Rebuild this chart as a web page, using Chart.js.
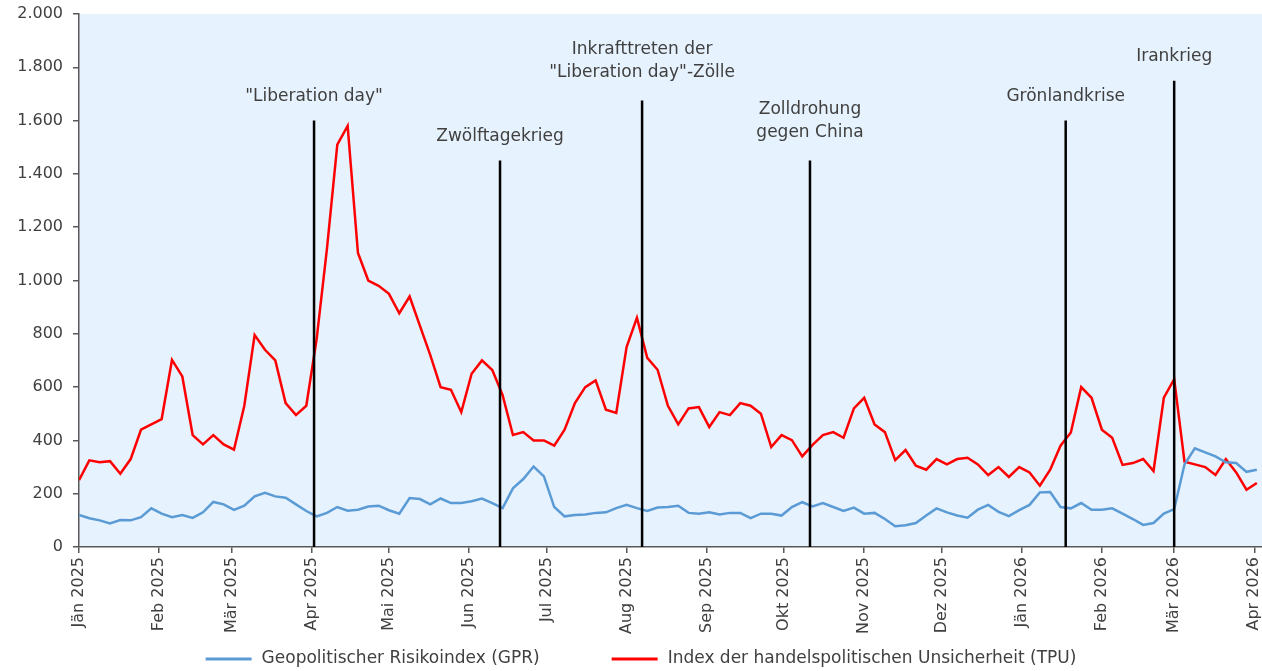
<!DOCTYPE html>
<html lang="de">
<head>
  <meta charset="UTF-8">
  <title>GPR und TPU</title>
  <script src="https://cdn.jsdelivr.net/npm/chart.js"></script>
  <style>
    body {
      margin: 0;
      background: #ffffff;
    }
    .chart-box {
      width: 1262px;
      height: 671px;
      position: relative;
    }
  </style>
</head>
<body>
  <div class="chart-box">
    <canvas id="riskChart"></canvas>
  </div>

  <script>
// x positions: days since 1 Jan 2025
const days = [
  0, 4, 8, 12, 16, 20, 24, 28, 32, 36,
  40, 44, 48, 52, 56, 60, 64, 68, 72, 76,
  80, 84, 88, 92, 96, 100, 104, 108, 112, 116,
  120, 124, 128, 132, 136, 140, 144, 148, 152, 156,
  160, 164, 168, 172, 176, 180, 184, 188, 192, 196,
  200, 204, 208, 212, 216, 220, 224, 228, 232, 236,
  240, 244, 248, 252, 256, 260, 264, 268, 272, 276,
  280, 284, 288, 292, 296, 300, 304, 308, 312, 316,
  320, 324, 328, 332, 336, 340, 344, 348, 352, 356,
  360, 364, 368, 372, 376, 380, 384, 388, 392, 396,
  400, 404, 408, 412, 416, 420, 424, 428, 432, 436,
  440, 444, 448, 452, 456
];

// Index der handelspolitischen Unsicherheit (TPU)
const tpuValues = [
  251, 325, 318, 322, 275, 330, 440, 460, 480, 702,
  640, 420, 385, 420, 385, 365, 530, 795, 740, 700,
  540, 495, 530, 780, 1120, 1510, 1580, 1103, 1000, 980,
  950, 877, 940, 830, 720, 600, 590, 506, 650, 700,
  664, 570, 420, 431, 400, 400, 380, 440, 540, 600,
  625, 515, 503, 750, 860, 710, 665, 530, 460, 520,
  525, 450, 506, 495, 540, 530, 500, 375, 420, 401,
  340, 383, 420, 431, 410, 520, 560, 460, 431, 326,
  364, 305, 290, 330, 310, 330, 335, 310, 270, 300,
  263, 300, 280, 230, 290, 380, 430, 600, 560, 440,
  410, 308, 315, 330, 285, 560, 630, 320, 310, 300,
  270, 330, 280, 215, 240
];

// Geopolitischer Risikoindex (GPR)
const gprValues = [
  120, 108, 100, 88, 101, 100, 112, 145, 125, 112,
  120, 109, 130, 169, 160, 139, 155, 190, 203, 190,
  185, 160, 135, 115, 128, 150, 136, 140, 152, 155,
  138, 125, 184, 180, 160, 182, 165, 165, 172, 182,
  165, 146, 220, 255, 302, 265, 150, 115, 120, 122,
  128, 130, 146, 158, 146, 135, 148, 150, 155, 128,
  125, 130, 122, 128, 128, 108, 125, 125, 118, 150,
  168, 152, 165, 150, 135, 148, 125, 128, 105, 78,
  82, 90, 118, 145, 130, 118, 110, 140, 158, 132,
  116, 138, 158, 205, 206, 150, 145, 165, 140, 140,
  145, 125, 105, 83, 90, 125, 142, 310, 370, 355,
  340, 318, 315, 282, 290
];

// month ticks
const monthDays = [0, 31, 59, 90, 120, 151, 181, 212, 243, 273, 304, 334, 365, 396, 424, 455];
const monthLabels = ['Jän 2025', 'Feb 2025', 'Mär 2025', 'Apr 2025', 'Mai 2025', 'Jun 2025',
  'Jul 2025', 'Aug 2025', 'Sep 2025', 'Okt 2025', 'Nov 2025', 'Dez 2025',
  'Jän 2026', 'Feb 2026', 'Mär 2026', 'Apr 2026'];

// events (vertical lines)
const eventDays = [91, 163, 218, 283, 382, 424];
const eventTops = [1600, 1450, 1675, 1450, 1600, 1750];
const eventLabels = [
  ['"Liberation day"'],
  ['Zwölftagekrieg'],
  ['Inkrafttreten der', '"Liberation day"-Zölle'],
  ['Zolldrohung', 'gegen China'],
  ['Grönlandkrise'],
  ['Irankrieg']
];

const seriesNames = ['Geopolitischer Risikoindex (GPR)', 'Index der handelspolitischen Unsicherheit (TPU)'];
const seriesColors = ['#5b9bd5', '#ff0000'];

const textColor = '#404040';
const fontFamily = '"DejaVu Sans", sans-serif';

function formatThousands(v) {
  if (v >= 1000) {
    return Math.floor(v / 1000) + '.' + String(v % 1000).padStart(3, '0');
  }
  return String(v);
}

// light blue plot area
const plotBackground = {
  id: 'plotBackground',
  beforeDraw(chart) {
    const { ctx, chartArea } = chart;
    ctx.save();
    ctx.fillStyle = '#e6f2fd';
    ctx.fillRect(chartArea.left, chartArea.top, chartArea.right - chartArea.left, chartArea.bottom - chartArea.top);
    ctx.restore();
  }
};

// event lines with labels
const eventMarkers = {
  id: 'eventMarkers',
  afterDatasetsDraw(chart) {
    const { ctx, scales: { x, y } } = chart;
    ctx.save();
    eventDays.forEach((d, i) => {
      const px = x.getPixelForValue(d);
      const top = y.getPixelForValue(eventTops[i]);
      ctx.strokeStyle = '#000000';
      ctx.lineWidth = 2.5;
      ctx.beginPath();
      ctx.moveTo(px, y.bottom);
      ctx.lineTo(px, top);
      ctx.stroke();

      ctx.fillStyle = textColor;
      ctx.font = '17px ' + fontFamily;
      ctx.textAlign = 'center';
      ctx.textBaseline = 'middle';
      const lines = eventLabels[i];
      const gap = lines.length > 1 ? 28 : 24;
      lines.forEach((t, j) => {
        ctx.fillText(t, px, top - gap - (lines.length - 1 - j) * 23);
      });
    });
    ctx.restore();
  }
};

// legend drawn by hand (wide gap between the two items)
const bottomLegend = {
  id: 'bottomLegend',
  afterDraw(chart) {
    const { ctx } = chart;
    const lineLen = 46, textGap = 10, itemGap = 72;
    const yPos = chart.height - 12;
    ctx.save();
    ctx.font = '17px ' + fontFamily;
    const widths = seriesNames.map(n => lineLen + textGap + ctx.measureText(n).width);
    const total = widths[0] + itemGap + widths[1];
    let xPos = chart.width / 2 + 10 - total / 2;
    seriesNames.forEach((n, i) => {
      ctx.strokeStyle = seriesColors[i];
      ctx.lineWidth = 3;
      ctx.beginPath();
      ctx.moveTo(xPos, yPos);
      ctx.lineTo(xPos + lineLen, yPos);
      ctx.stroke();
      ctx.fillStyle = textColor;
      ctx.textAlign = 'left';
      ctx.textBaseline = 'middle';
      ctx.fillText(n, xPos + lineLen + textGap, yPos);
      xPos += widths[i] + itemGap;
    });
    ctx.restore();
  }
};

const toPoints = vals => days.map((d, i) => ({ x: d, y: vals[i] }));

new Chart(document.getElementById('riskChart'), {
  type: 'line',
  data: {
    datasets: [
      {
        label: seriesNames[0],
        data: toPoints(gprValues),
        borderColor: seriesColors[0],
        backgroundColor: seriesColors[0],
        borderWidth: 2.5,
        pointRadius: 0,
        tension: 0,
        fill: false
      },
      {
        label: seriesNames[1],
        data: toPoints(tpuValues),
        borderColor: seriesColors[1],
        backgroundColor: seriesColors[1],
        borderWidth: 2.5,
        pointRadius: 0,
        tension: 0,
        fill: false
      }
    ]
  },
  options: {
    responsive: true,
    maintainAspectRatio: false,
    animation: false,
    layout: {
      padding: { top: 14, right: 0, bottom: 30, left: 0 }
    },
    plugins: {
      legend: { display: false },
      tooltip: { enabled: false }
    },
    scales: {
      x: {
        type: 'linear',
        min: 0,
        max: 458,
        afterBuildTicks: scale => {
          scale.ticks = monthDays.map(v => ({ value: v }));
        },
        afterFit: scale => {
          scale.height = 94;
          // no extra side padding for the rotated end labels
          scale.paddingLeft = 0;
          scale.paddingRight = 0;
        },
        ticks: {
          autoSkip: false,
          minRotation: 90,
          maxRotation: 90,
          padding: 4,
          color: textColor,
          font: { family: fontFamily, size: 16 },
          callback: value => monthLabels[monthDays.indexOf(value)]
        },
        grid: {
          drawOnChartArea: false,
          tickLength: 6,
          color: '#595959',
          lineWidth: 1.5
        },
        border: { color: '#595959', width: 1.5 }
      },
      y: {
        min: 0,
        max: 2000,
        afterFit: scale => {
          scale.width = 79;
          scale.paddingTop = 0;
          scale.paddingBottom = 0;
        },
        ticks: {
          stepSize: 200,
          padding: 10,
          color: textColor,
          font: { family: fontFamily, size: 16 },
          callback: value => formatThousands(value)
        },
        grid: {
          drawOnChartArea: false,
          tickLength: 6,
          color: '#595959',
          lineWidth: 1.5
        },
        border: { color: '#595959', width: 1.5 }
      }
    }
  },
  plugins: [plotBackground, eventMarkers, bottomLegend]
});
  </script>
</body>
</html>
